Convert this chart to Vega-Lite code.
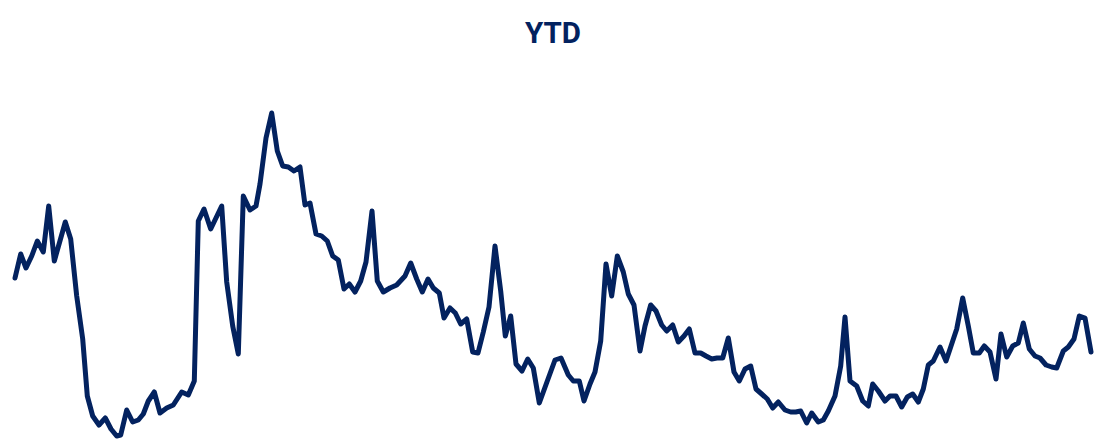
{
  "$schema": "https://vega.github.io/schema/vega-lite/v6.json",
  "width": 1076,
  "height": 323,
  "autosize": "none",
  "padding": {"left": 15, "top": 113, "right": 4, "bottom": 3},
  "background": "white",
  "config": {"view": {"stroke": null}},
  "title": {
    "text": "YTD",
    "anchor": "middle",
    "font": "Roboto",
    "fontSize": 29.5,
    "fontWeight": "bold",
    "color": "#03225f",
    "baseline": "alphabetic",
    "offset": 38
  },
  "data": {"values": [
    {"t":15,"v":171},{"t":20.7,"v":195},{"t":26,"v":181},{"t":31.7,"v":193},{"t":37.3,"v":208},{"t":43.3,"v":197},{"t":48.7,"v":243},{"t":54.3,"v":188},{"t":65.3,"v":227},{"t":70.7,"v":210},{"t":76.7,"v":153},{"t":82.7,"v":110},{"t":87.3,"v":53},{"t":92.7,"v":33},{"t":99,"v":24},{"t":105.3,"v":31},{"t":111,"v":20},{"t":116.7,"v":13},{"t":120.7,"v":14},{"t":126.7,"v":39},{"t":132.7,"v":27},{"t":138.3,"v":29},{"t":143.3,"v":35},{"t":148.3,"v":48},{"t":154.3,"v":57},{"t":160,"v":36},{"t":166.7,"v":41},{"t":173.3,"v":44},{"t":181.7,"v":57},{"t":188.3,"v":54},{"t":194.3,"v":68},{"t":198.3,"v":228},{"t":204,"v":240},{"t":210.7,"v":220},{"t":221.7,"v":243},{"t":226.7,"v":167},{"t":232.7,"v":123},{"t":238.3,"v":95},{"t":243.3,"v":253},{"t":250,"v":239},{"t":256,"v":243},{"t":260,"v":265},{"t":266,"v":311},{"t":271.7,"v":336},
    {"t":277.3,"v":298},{"t":282.7,"v":283},{"t":288.3,"v":282},{"t":294,"v":278},{"t":300,"v":282},{"t":305,"v":244},{"t":310,"v":246},{"t":316,"v":215},{"t":321.7,"v":213},{"t":327.3,"v":208},{"t":332.7,"v":193},{"t":338.3,"v":189},{"t":344,"v":160},{"t":349.3,"v":165},{"t":355,"v":157},{"t":360.7,"v":168},{"t":366,"v":187},{"t":372,"v":238},{"t":377.3,"v":168},{"t":383.3,"v":157},{"t":390,"v":161},{"t":396.7,"v":164},{"t":405,"v":173},{"t":410.7,"v":186},{"t":416.7,"v":170},{"t":422.3,"v":157},{"t":428,"v":170},{"t":433.3,"v":161},{"t":439.3,"v":156},{"t":444,"v":131},{"t":450,"v":141},{"t":455.3,"v":136},{"t":460.7,"v":125},{"t":466.7,"v":130},{"t":472.7,"v":97},{"t":478,"v":96},{"t":483.3,"v":117},{"t":489,"v":142},{"t":495,"v":203},{"t":500.7,"v":158},{"t":505.3,"v":113},{"t":510.7,"v":133},{"t":516,"v":85},{"t":522,"v":78},{"t":527.7,"v":90},{"t":533.3,"v":81},{"t":539.3,"v":46},
    {"t":547.3,"v":68},{"t":555,"v":89},{"t":561,"v":91},{"t":568.3,"v":74},{"t":573.3,"v":68},{"t":579.3,"v":68},{"t":584,"v":48},{"t":590,"v":65},{"t":595,"v":77},{"t":600.7,"v":108},{"t":606,"v":185},{"t":611.7,"v":153},{"t":617.3,"v":193},{"t":623.3,"v":177},{"t":628.3,"v":155},{"t":634,"v":144},{"t":640,"v":98},{"t":645,"v":123},{"t":650.7,"v":144},{"t":656,"v":138},{"t":661.7,"v":124},{"t":666.7,"v":118},{"t":672.7,"v":124},{"t":678.3,"v":107},{"t":684,"v":113},{"t":689.3,"v":120},{"t":695,"v":96},{"t":700.7,"v":96},{"t":706,"v":93},{"t":711.7,"v":90},{"t":717,"v":91},{"t":722.7,"v":91},{"t":728.3,"v":111},{"t":734,"v":77},{"t":739.3,"v":68},{"t":745,"v":80},{"t":750.7,"v":83},{"t":756,"v":60},{"t":761.7,"v":55},{"t":767.3,"v":50},{"t":772.7,"v":41},{"t":778.3,"v":47},{"t":785,"v":39},{"t":790.7,"v":37},{"t":795.7,"v":37},{"t":800.7,"v":38},{"t":806.7,"v":26},{"t":811.7,"v":36},
    {"t":818.3,"v":27},{"t":823.3,"v":29},{"t":828.3,"v":38},{"t":835,"v":53},{"t":840.7,"v":83},{"t":845,"v":132},{"t":850,"v":68},{"t":856.7,"v":63},{"t":862.7,"v":48},{"t":868.3,"v":43},{"t":872.7,"v":65},{"t":878.3,"v":58},{"t":885,"v":48},{"t":890,"v":53},{"t":896,"v":53},{"t":901.7,"v":42},{"t":907.3,"v":52},{"t":912.7,"v":55},{"t":918.3,"v":47},{"t":923.3,"v":60},{"t":928.3,"v":84},{"t":933.3,"v":88},{"t":940,"v":102},{"t":946,"v":88},{"t":950.7,"v":102},{"t":956.7,"v":120},{"t":962.7,"v":151},{"t":968.3,"v":123},{"t":973.3,"v":96},{"t":979.3,"v":96},{"t":984.3,"v":103},{"t":990,"v":97},{"t":996,"v":70},{"t":1001,"v":115},{"t":1006.7,"v":92},{"t":1012.7,"v":103},{"t":1018.3,"v":106},{"t":1023.3,"v":126},{"t":1029.3,"v":100},{"t":1035,"v":93},{"t":1040,"v":91},{"t":1046,"v":84},{"t":1051.7,"v":82},{"t":1056.7,"v":81},{"t":1063.3,"v":98},{"t":1068.3,"v":102},{"t":1074,"v":110},{"t":1079.3,"v":133},{"t":1085,"v":131},{"t":1091,"v":97}
  ]},
  "mark": {"type": "line", "color": "#03225f", "strokeWidth": 5, "strokeJoin": "round", "strokeCap": "round", "clip": false},
  "encoding": {
    "x": {"field": "t", "type": "quantitative", "axis": null, "scale": {"domain": [15, 1091], "nice": false, "zero": false}},
    "y": {"field": "v", "type": "quantitative", "axis": null, "scale": {"domain": [13, 336], "nice": false, "zero": false}}
  }
}
